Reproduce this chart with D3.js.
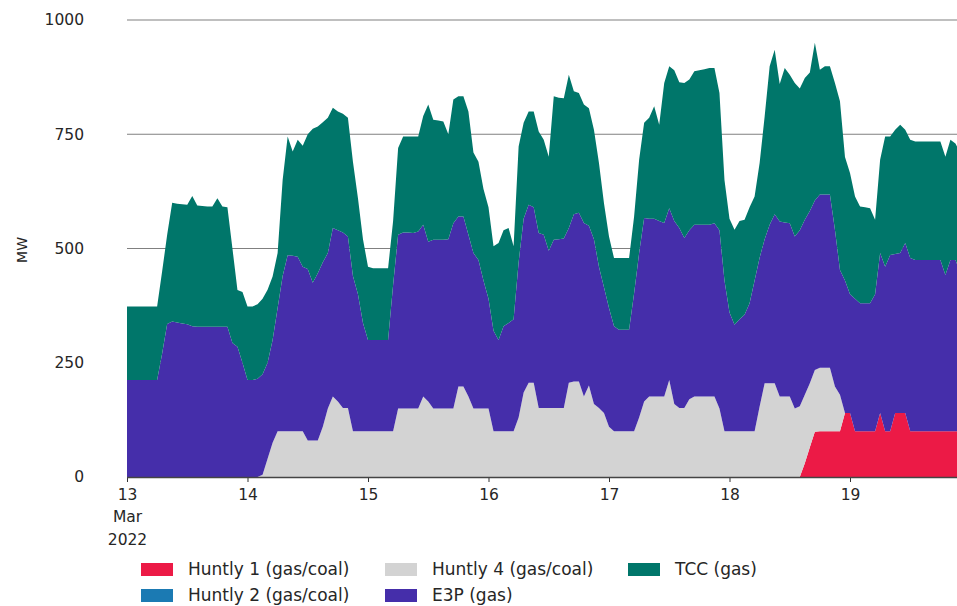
<!DOCTYPE html>
<html>
<head>
<meta charset="utf-8">
<script src="https://cdn.jsdelivr.net/npm/d3@7"></script>
<style>
  html, body { margin: 0; padding: 0; background: #fff; }
  svg { display: block; font-family: "DejaVu Sans", sans-serif; }
</style>
</head>
<body>
<svg id="chart" width="957" height="606"></svg>
<script>
// Hourly generation (MW) of the thermal plants, from 13 Mar 2022 00:00
const startTime = new Date(2022, 2, 13, 0, 0, 0);

const seriesNames = ["Huntly 1 (gas/coal)", "Huntly 2 (gas/coal)", "Huntly 4 (gas/coal)", "E3P (gas)", "TCC (gas)"];
const seriesColors = ["#ec1a46", "#1b7ab3", "#d3d3d3", "#452eaa", "#00766a"];

const huntly1 = [
  0,0,0,0,0,0,0,0,0,0,0,0,0,0,0,0,0,0,0,0,0,0,0,0,
  0,0,0,0,0,0,0,0,0,0,0,0,0,0,0,0,0,0,0,0,0,0,0,0,
  0,0,0,0,0,0,0,0,0,0,0,0,0,0,0,0,0,0,0,0,0,0,0,0,
  0,0,0,0,0,0,0,0,0,0,0,0,0,0,0,0,0,0,0,0,0,0,0,0,
  0,0,0,0,0,0,0,0,0,0,0,0,0,0,0,0,0,0,0,0,0,0,0,0,
  0,0,0,0,0,0,0,0,0,0,0,0,0,0,0,30,65,99,100,100,100,100,100,140,
  140,100,100,100,100,100,140,100,100,140,140,140,100,100,100,100,100,100,100,100,100,100,100,100
];

const huntly2 = [
  0,0,0,0,0,0,0,0,0,0,0,0,0,0,0,0,0,0,0,0,0,0,0,0,
  0,0,0,0,0,0,0,0,0,0,0,0,0,0,0,0,0,0,0,0,0,0,0,0,
  0,0,0,0,0,0,0,0,0,0,0,0,0,0,0,0,0,0,0,0,0,0,0,0,
  0,0,0,0,0,0,0,0,0,0,0,0,0,0,0,0,0,0,0,0,0,0,0,0,
  0,0,0,0,0,0,0,0,0,0,0,0,0,0,0,0,0,0,0,0,0,0,0,0,
  0,0,0,0,0,0,0,0,0,0,0,0,0,0,0,0,0,0,0,0,0,0,0,0,
  0,0,0,0,0,0,0,0,0,0,0,0,0,0,0,0,0,0,0,0,0,0,0,0
];

const huntly4 = [
  0,0,0,0,0,0,0,0,0,0,0,0,0,0,0,0,0,0,0,0,0,0,0,0,
  0,0,0,5,40,75,100,100,100,100,100,100,80,80,80,110,150,176,165,151,151,100,100,100,
  100,100,100,100,100,100,150,150,150,150,150,176,165,150,150,150,150,150,198,198,176,150,150,150,
  150,100,100,100,100,100,130,185,206,206,151,151,151,151,151,151,206,209,209,176,200,160,151,140,
  110,100,100,100,100,100,130,165,176,176,176,176,212,160,151,151,170,176,176,176,176,176,150,100,
  100,100,100,100,100,100,154,205,205,205,176,176,176,150,155,150,140,135,139,139,139,98,80,0,
  0,0,0,0,0,0,0,0,0,0,0,0,0,0,0,0,0,0,0,0,0,0,0,0
];

const e3p = [
  212,212,212,212,212,212,212,270,335,340,338,336,334,330,329,329,329,329,329,329,329,293,285,250,
  212,212,215,220,210,225,270,340,385,384,382,360,375,345,366,360,340,369,375,384,375,340,300,237,
  200,200,200,200,200,320,380,385,385,384,387,376,350,369,369,369,370,405,372,372,354,340,325,280,
  240,220,200,230,237,245,340,380,390,384,383,379,344,368,369,371,339,366,369,380,350,360,309,275,
  260,230,222,222,222,302,360,402,389,389,384,380,376,400,394,372,370,376,376,376,376,379,390,330,
  260,233,245,255,280,330,326,315,347,370,383,381,379,376,385,383,377,371,379,379,379,343,273,290,
  260,290,280,280,280,300,350,360,386,348,350,372,379,375,375,375,375,375,375,342,375,375,346,346
];

const tcc = [
  161,161,161,161,161,161,161,180,195,260,260,261,262,285,265,264,263,263,281,263,261,207,124,155,
  161,161,163,165,160,139,120,210,260,228,256,265,295,337,321,306,296,263,260,260,260,250,210,183,
  160,157,157,157,157,140,190,210,210,211,208,238,300,263,261,259,230,271,263,263,270,220,215,200,
  200,185,212,210,208,160,253,210,204,210,222,208,206,314,310,307,335,269,262,259,257,240,227,184,
  156,149,157,157,157,168,204,208,221,246,211,306,311,330,319,339,330,336,338,340,343,340,300,220,
  205,208,215,208,210,184,207,269,347,360,301,338,325,336,310,310,303,345,273,281,281,321,369,270,
  265,224,212,210,208,163,204,285,259,272,281,248,259,259,259,259,259,259,259,259,263,255,263,263
];

const yTicks = [0, 250, 500, 750, 1000];
const dayTicks = [13, 14, 15, 16, 17, 18, 19];

// Assemble one row per hour for the stack layout
const seriesValues = [huntly1, huntly2, huntly4, e3p, tcc];
const rows = huntly1.map((_, i) => {
  const row = { time: d3.timeHour.offset(startTime, i) };
  seriesNames.forEach((name, k) => { row[name] = seriesValues[k][i]; });
  return row;
});

const svg = d3.select("#chart");
const plotLeft = 127, plotRight = 957, plotTop = 20, plotBottom = 477;

const x = d3.scaleTime()
  .domain([startTime, new Date(2022, 2, 20, 0, 0, 0)])
  .range([plotLeft, plotLeft + 7 * 120.5]);
const y = d3.scaleLinear().domain([0, 1000]).range([plotBottom, plotTop]);

// Horizontal gridlines behind the areas
svg.append("g")
  .selectAll("line")
  .data(yTicks.filter(v => v > 0))
  .join("line")
  .attr("x1", plotLeft).attr("x2", plotRight)
  .attr("y1", d => y(d)).attr("y2", d => y(d))
  .attr("stroke", "#808080").attr("stroke-width", 1.2);

// Stacked areas
const stacked = d3.stack().keys(seriesNames)(rows);
const area = d3.area()
  .x(d => x(d.data.time))
  .y0(d => y(d[0]))
  .y1(d => y(d[1]))
  .curve(d3.curveLinear);

svg.append("defs").append("clipPath").attr("id", "plotClip")
  .append("rect").attr("x", plotLeft).attr("y", 0)
  .attr("width", plotRight - plotLeft).attr("height", plotBottom + 1);

svg.append("g").attr("clip-path", "url(#plotClip)")
  .selectAll("path")
  .data(stacked)
  .join("path")
  .attr("d", area)
  .attr("fill", (d, i) => seriesColors[i]);

// Baseline and x axis
const dayDates = dayTicks.map(d => new Date(2022, 2, d, 0, 0, 0));
const xAxis = d3.axisBottom(x)
  .tickValues(dayDates)
  .tickSize(5)
  .tickPadding(7)
  .tickFormat(d => String(d.getDate()));

const gx = svg.append("g")
  .attr("transform", `translate(0,${plotBottom})`)
  .call(xAxis);
gx.select(".domain").remove();
gx.selectAll(".tick line").attr("stroke", "#333").attr("stroke-width", 1);
gx.selectAll(".tick text")
  .attr("font-size", 15.5)
  .attr("fill", "#262626")
  .attr("font-family", "DejaVu Sans, sans-serif");

// Month and year under the first day label
const firstTick = gx.selectAll(".tick text").filter((d, i) => i === 0);
firstTick.append("tspan").attr("x", 0).attr("dy", "1.45em").text("Mar");
firstTick.append("tspan").attr("x", 0).attr("dy", "1.45em").text("2022");

svg.append("line")
  .attr("x1", plotLeft).attr("x2", plotRight)
  .attr("y1", plotBottom + 0.5).attr("y2", plotBottom + 0.5)
  .attr("stroke", "#444").attr("stroke-width", 1.3);

// Y axis labels
const yAxis = d3.axisLeft(y).tickValues(yTicks).tickSize(0).tickPadding(0)
  .tickFormat(d3.format("d"));
const gy = svg.append("g").attr("transform", "translate(84,0)").call(yAxis);
gy.select(".domain").remove();
gy.selectAll(".tick text")
  .attr("font-size", 15.5)
  .attr("fill", "#262626")
  .attr("font-family", "DejaVu Sans, sans-serif");

svg.append("text")
  .attr("transform", "translate(27,250) rotate(-90)")
  .attr("text-anchor", "middle")
  .attr("font-size", 14)
  .attr("fill", "#262626")
  .text("MW");

// Legend, filled column by column
const legendCols = [141, 385, 628];
const legendRows = [563, 589];
const legend = svg.append("g")
  .selectAll("g")
  .data(seriesNames)
  .join("g")
  .attr("transform", (d, i) => `translate(${legendCols[Math.floor(i / 2)]},${legendRows[i % 2]})`);
legend.append("rect")
  .attr("width", 32).attr("height", 13)
  .attr("fill", (d, i) => seriesColors[i]);
legend.append("text")
  .attr("x", 47).attr("y", 12)
  .attr("font-size", 17)
  .attr("fill", "#262626")
  .text(d => d);
</script>
</body>
</html>
